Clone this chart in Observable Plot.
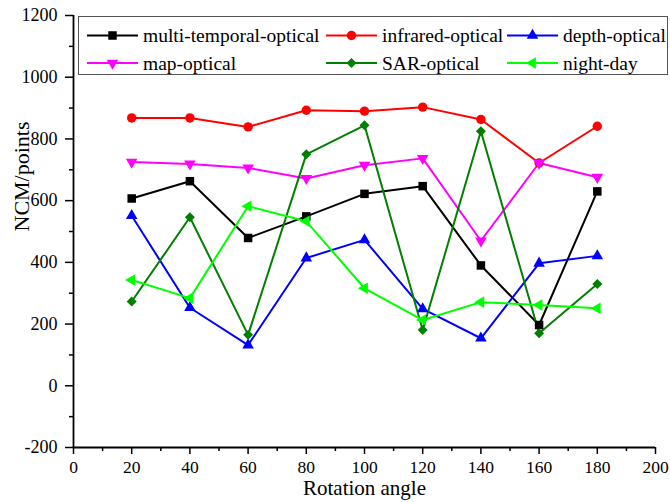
<!DOCTYPE html>
<html>
<head>
<meta charset="utf-8">
<script src="https://cdn.jsdelivr.net/npm/d3@7"></script>
<script src="https://cdn.jsdelivr.net/npm/@observablehq/plot@0.6"></script>
<style>
  html, body { margin: 0; padding: 0; background: #fff; }
  #chart svg { display: block; }
  #chart svg text { font-family: 'Liberation Serif', 'Times New Roman', serif; }
</style>
</head>
<body>
<div id="chart"></div>
<script>
// ---- data ----
const angles = [20, 40, 60, 80, 100, 120, 140, 160, 180];
const multiTemporalOptical = [607, 663, 479, 549, 622, 647, 390, 197, 630];
const infraredOptical      = [868, 868, 839, 893, 890, 903, 863, 722, 841];
const depthOptical         = [551, 253, 132, 414, 473, 249, 154, 397, 421];
const mapOptical           = [725, 719, 706, 672, 715, 737, 470, 722, 676];
const sarOptical           = [273, 546, 165, 750, 844, 181, 825, 170, 330];
const nightDay             = [343, 284, 582, 533, 316, 213, 271, 262, 251];

const seriesNames  = ["multi-temporal-optical", "infrared-optical", "depth-optical", "map-optical", "SAR-optical", "night-day"];
const seriesValues = [multiTemporalOptical, infraredOptical, depthOptical, mapOptical, sarOptical, nightDay];
const seriesColors = ["#000000", "#ff0000", "#0000ff", "#ff00ff", "#007f00", "#00ff00"];
const seriesSymbols = ["square", "circle", "triangle", "triangle", "diamond2", "triangle"];
const seriesRotate  = [0, 0, 0, 180, 0, -90];
const seriesR       = [4.8, 4.7, 4.3, 4.3, 4.5, 4.3];

const xMajorTicks = d3.range(0, 201, 20);
const xMinorTicks = d3.range(10, 200, 20);
const yMajorTicks = d3.range(-200, 1201, 200);
const yMinorTicks = d3.range(-100, 1200, 200);

const xTitle = "Rotation angle";
const yTitle = "NCM/points";

// ---- build table ----
const rows = [];
seriesNames.forEach((name, i) => {
  angles.forEach((a, j) => rows.push({series: name, angle: a, value: seriesValues[i][j]}));
});

const font = "'Liberation Serif', 'Times New Roman', serif";

const marks = [
  Plot.axisX({ticks: xMajorTicks, tickSize: 7, tickPadding: 6, strokeWidth: 1.5, fontSize: 17.5, fontFamily: font, label: null, tickFormat: d => String(d)}),
  Plot.axisX({ticks: xMinorTicks, tickSize: 4, strokeWidth: 1.5, text: null, label: null}),
  Plot.axisY({ticks: yMajorTicks, tickSize: 8, tickPadding: 8, strokeWidth: 1.5, fontSize: 18, fontFamily: font, label: null, tickFormat: d => String(d)}),
  Plot.axisY({ticks: yMinorTicks, tickSize: 4, strokeWidth: 1.5, text: null, label: null}),
  Plot.ruleX([0], {stroke: "#000", strokeWidth: 1.8}),
  Plot.ruleY([-200], {stroke: "#000", strokeWidth: 1.8}),
  Plot.text([xTitle], {frameAnchor: "bottom", dy: 47, fontSize: 21, fontFamily: font, fill: "#000"}),
  Plot.text([yTitle], {frameAnchor: "left", dx: -52, rotate: -90, fontSize: 22, fontFamily: font, fill: "#000"})
];

seriesNames.forEach((name, i) => {
  const data = rows.filter(r => r.series === name);
  marks.push(Plot.line(data, {x: "angle", y: "value", stroke: seriesColors[i], strokeWidth: 2}));
});
seriesNames.forEach((name, i) => {
  const data = rows.filter(r => r.series === name);
  marks.push(Plot.dot(data, {x: "angle", y: "value", symbol: seriesSymbols[i], fill: seriesColors[i], stroke: "none", r: seriesR[i], rotate: seriesRotate[i]}));
});

const chart = Plot.plot({
  width: 670,
  height: 502,
  marginLeft: 73,
  marginRight: 15,
  marginTop: 15,
  marginBottom: 55,
  style: {fontFamily: font, color: "#000", background: "#fff", overflow: "visible"},
  x: {domain: [0, 200], label: null},
  y: {domain: [-200, 1200], label: null},
  marks
});

document.getElementById("chart").appendChild(chart);

// ---- legend (drawn into the same SVG) ----
const svg = d3.select(chart);
const lg = svg.append("g").attr("font-family", font).attr("font-size", 19.5).attr("text-anchor", "start");
lg.append("rect")
  .attr("x", 78.5).attr("y", 16.5).attr("width", 589).attr("height", 58)
  .attr("fill", "#fff").attr("stroke", "#555").attr("stroke-width", 1);
const colX = [87, 326, 507];
const rowY = [35.5, 63];
const symMap = {square: d3.symbolSquare, circle: d3.symbolCircle, triangle: d3.symbolTriangle, diamond2: d3.symbolDiamond2};
seriesNames.forEach((name, i) => {
  const cx = colX[i % 3], cy = rowY[Math.floor(i / 3)];
  const g = lg.append("g");
  g.append("line").attr("x1", cx).attr("x2", cx + 51).attr("y1", cy).attr("y2", cy)
    .attr("stroke", seriesColors[i]).attr("stroke-width", 2);
  g.append("path")
    .attr("d", d3.symbol(symMap[seriesSymbols[i]], Math.PI * seriesR[i] * seriesR[i])())
    .attr("transform", `translate(${cx + 25.5},${cy}) rotate(${seriesRotate[i]})`)
    .attr("fill", seriesColors[i]);
  g.append("text").attr("x", cx + 56).attr("y", cy).attr("dy", "0.35em")
    .attr("text-anchor", "start").attr("fill", "#000").text(name);
});
</script>
</body>
</html>
